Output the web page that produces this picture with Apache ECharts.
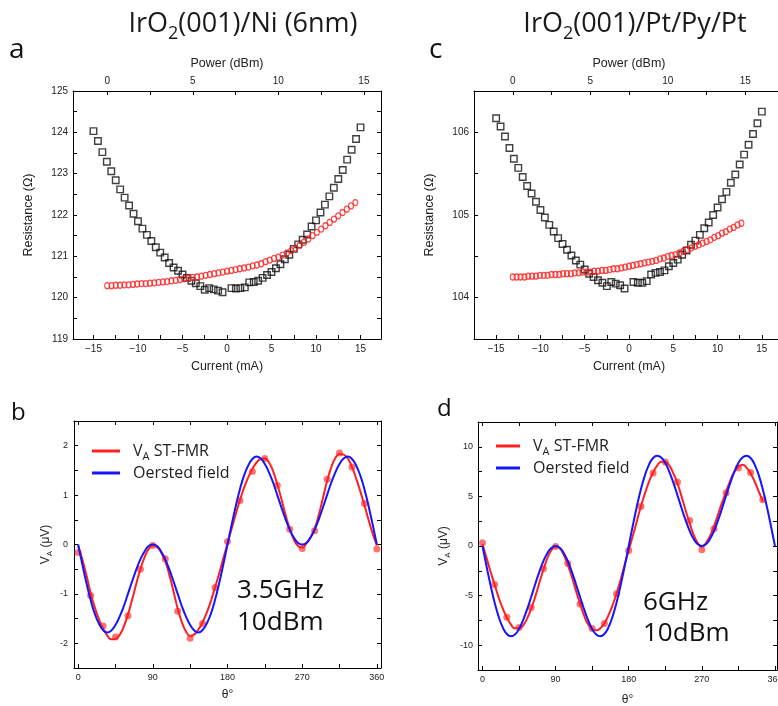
<!DOCTYPE html>
<html><head><meta charset="utf-8">
<script src="https://cdn.jsdelivr.net/npm/echarts@6.0.0/dist/echarts.min.js"></script>
<style>html,body{margin:0;padding:0;background:#fff}#c{width:778px;height:706px}</style>
</head><body><div id="c"></div>
<script>
// ---------- DATA ----------
// Panel a: IrO2(001)/Ni(6nm)  (black squares vs current, red circles vs power)
const currentA = [-15,-14.5,-14,-13.5,-13,-12.5,-12,-11.5,-11,-10.5,-10,-9.5,-9,-8.5,-8,-7.5,-7,-6.5,-6,-5.5,-5,-4.5,-4,-3.5,-3,-2.5,-2,-1.5,-1,-0.5,0.5,1,1.5,2,2.5,3,3.5,4,4.5,5,5.5,6,6.5,7,7.5,8,8.5,9,9.5,10,10.5,11,11.5,12,12.5,13,13.5,14,14.5,15];
const resCurA = [124.03,123.79,123.52,123.29,123.06,122.84,122.62,122.42,122.23,122.03,121.85,121.67,121.52,121.37,121.22,121.09,120.97,120.84,120.73,120.65,120.56,120.48,120.41,120.35,120.28,120.19,120.23,120.20,120.17,120.13,120.23,120.22,120.23,120.25,120.37,120.38,120.41,120.48,120.55,120.62,120.71,120.81,120.93,121.04,121.18,121.29,121.40,121.53,121.72,121.87,122.06,122.25,122.45,122.66,122.87,123.09,123.34,123.58,123.84,124.12];
const powerA = [0,0.25,0.5,0.75,1,1.25,1.5,1.75,2,2.25,2.5,2.75,3,3.25,3.5,3.75,4,4.25,4.5,4.75,5,5.25,5.5,5.75,6,6.25,6.5,6.75,7,7.25,7.5,7.75,8,8.25,8.5,8.75,9,9.25,9.5,9.75,10,10.25,10.5,10.75,11,11.25,11.5,11.75,12,12.25,12.5,12.75,13,13.25,13.5,13.75,14,14.25,14.5];
const resPowA = [120.29,120.29,120.30,120.30,120.31,120.31,120.32,120.33,120.34,120.34,120.35,120.36,120.37,120.38,120.39,120.41,120.42,120.44,120.46,120.47,120.49,120.50,120.52,120.54,120.56,120.58,120.60,120.62,120.64,120.66,120.68,120.70,120.72,120.74,120.77,120.79,120.82,120.87,120.91,120.95,120.98,121.03,121.08,121.14,121.20,121.27,121.34,121.42,121.50,121.58,121.66,121.74,121.82,121.90,121.98,122.06,122.14,122.22,122.30];

// Panel c: IrO2(001)/Pt/Py/Pt
const currentC = [-15,-14.5,-14,-13.5,-13,-12.5,-12,-11.5,-11,-10.5,-10,-9.5,-9,-8.5,-8,-7.5,-7,-6.5,-6,-5.5,-5,-4.5,-4,-3.5,-3,-2.5,-2,-1.5,-1,-0.5,0.5,1,1.5,2,2.5,3,3.5,4,4.5,5,5.5,6,6.5,7,7.5,8,8.5,9,9.5,10,10.5,11,11.5,12,12.5,13,13.5,14,14.5,15];
const resCurC = [106.17,106.07,105.95,105.81,105.68,105.57,105.46,105.35,105.26,105.16,105.06,104.97,104.88,104.80,104.72,104.65,104.58,104.51,104.45,104.40,104.34,104.29,104.25,104.21,104.18,104.14,104.19,104.17,104.15,104.11,104.19,104.18,104.18,104.20,104.28,104.30,104.31,104.33,104.38,104.42,104.46,104.52,104.57,104.64,104.69,104.76,104.84,104.91,105.00,105.09,105.19,105.28,105.39,105.49,105.61,105.73,105.85,105.98,106.11,106.25];
const powerC = [0,0.25,0.5,0.75,1,1.25,1.5,1.75,2,2.25,2.5,2.75,3,3.25,3.5,3.75,4,4.25,4.5,4.75,5,5.25,5.5,5.75,6,6.25,6.5,6.75,7,7.25,7.5,7.75,8,8.25,8.5,8.75,9,9.25,9.5,9.75,10,10.25,10.5,10.75,11,11.25,11.5,11.75,12,12.25,12.5,12.75,13,13.25,13.5,13.75,14,14.25,14.5,14.75];
const resPowC = [104.25,104.25,104.25,104.25,104.26,104.26,104.26,104.27,104.27,104.27,104.28,104.28,104.28,104.29,104.29,104.29,104.30,104.30,104.31,104.31,104.31,104.32,104.32,104.33,104.33,104.34,104.35,104.35,104.36,104.37,104.38,104.39,104.40,104.41,104.42,104.43,104.44,104.45,104.47,104.48,104.50,104.51,104.52,104.54,104.56,104.58,104.60,104.62,104.64,104.66,104.68,104.70,104.73,104.75,104.78,104.80,104.83,104.85,104.88,104.90];

// Panel b: 3.5 GHz, 10 dBm
const thetaDotsB = [0,15,30,45,60,75,90,105,120,135,150,165,180,195,210,225,240,255,270,285,300,315,330,345,360];
const vaDotsB = [-0.16,-1.03,-1.65,-1.87,-1.44,-0.50,-0.02,-0.29,-1.35,-1.90,-1.60,-0.87,0.06,0.89,1.48,1.74,1.20,0.31,-0.08,0.28,1.32,1.85,1.57,0.83,-0.09];
const thetaLine = [0,5,10,15,20,25,30,35,40,45,50,55,60,65,70,75,80,85,90,95,100,105,110,115,120,125,130,135,140,145,150,155,160,165,170,175,180,185,190,195,200,205,210,215,220,225,230,235,240,245,250,255,260,265,270,275,280,285,290,295,300,305,310,315,320,325,330,335,340,345,350,355,360];
const fitB = [-0.03,-0.30,-0.62,-0.98,-1.27,-1.51,-1.70,-1.84,-1.92,-1.91,-1.83,-1.66,-1.42,-1.12,-0.80,-0.50,-0.26,-0.09,-0.02,-0.05,-0.16,-0.34,-0.62,-0.95,-1.30,-1.57,-1.76,-1.85,-1.82,-1.72,-1.57,-1.38,-1.14,-0.87,-0.58,-0.28,0.02,0.32,0.62,0.90,1.15,1.36,1.53,1.66,1.73,1.74,1.66,1.48,1.22,0.92,0.60,0.32,0.10,-0.03,-0.06,0.02,0.14,0.32,0.60,0.94,1.28,1.56,1.75,1.83,1.82,1.74,1.57,1.34,1.08,0.80,0.50,0.22,-0.02];
const oerstedB = [0,-0.40,-0.78,-1.12,-1.40,-1.60,-1.73,-1.78,-1.74,-1.63,-1.46,-1.25,-1.00,-0.75,-0.51,-0.30,-0.14,-0.03,0,-0.03,-0.14,-0.30,-0.51,-0.75,-1.00,-1.25,-1.46,-1.63,-1.74,-1.78,-1.73,-1.60,-1.40,-1.12,-0.78,-0.40,0,0.40,0.78,1.12,1.40,1.60,1.73,1.78,1.74,1.63,1.46,1.25,1.00,0.75,0.51,0.30,0.14,0.03,0,0.03,0.14,0.30,0.51,0.75,1.00,1.25,1.46,1.63,1.74,1.78,1.73,1.60,1.40,1.12,0.78,0.40,0];

// Panel d: 6 GHz, 10 dBm
const thetaDotsD = [0,15,30,45,60,75,90,105,120,135,150,165,180,195,210,225,240,255,270,285,300,315,330,345];
const vaDotsD = [0.32,-3.87,-7.19,-8.22,-6.21,-2.29,-0.05,-1.76,-5.85,-8.32,-7.82,-4.81,-0.45,3.97,7.35,8.46,6.45,2.56,-0.39,1.73,5.38,7.86,7.42,4.67];
const thetaFitD = [0,5,10,15,20,25,30,35,40,45,50,55,60,65,70,75,80,85,90,95,100,105,110,115,120,125,130,135,140,145,150,155,160,165,170,175,180,185,190,195,200,205,210,215,220,225,230,235,240,245,250,255,260,265,270,275,280,285,290,295,300,305,310,315,320,325,330,335,340,345];
const fitD = [0.2,-1.2,-2.6,-3.9,-5.2,-6.3,-7.2,-7.9,-8.3,-8.3,-8.0,-7.3,-6.3,-5.1,-3.7,-2.4,-1.2,-0.4,-0.05,-0.2,-0.9,-1.9,-3.1,-4.5,-5.8,-7.0,-7.9,-8.4,-8.5,-8.3,-7.8,-7.0,-6.0,-4.8,-3.4,-1.9,-0.45,1.0,2.5,4.0,5.3,6.5,7.4,8.1,8.5,8.5,8.1,7.3,6.3,5.0,3.6,2.3,1.1,0.3,-0.1,0.3,1.0,2.0,3.2,4.4,5.5,6.6,7.5,8.0,8.2,7.9,7.3,6.5,5.5,4.5];
const oerstedD = [0,-2.04,-3.98,-5.71,-7.14,-8.21,-8.87,-9.10,-8.92,-8.36,-7.48,-6.37,-5.12,-3.83,-2.60,-1.53,-0.70,-0.18,0,-0.18,-0.70,-1.53,-2.60,-3.83,-5.12,-6.37,-7.48,-8.36,-8.92,-9.10,-8.87,-8.21,-7.14,-5.71,-3.98,-2.04,0,2.04,3.98,5.71,7.14,8.21,8.87,9.10,8.92,8.36,7.48,6.37,5.12,3.83,2.60,1.53,0.70,0.18,0,0.18,0.70,1.53,2.60,3.83,5.12,6.37,7.48,8.36,8.92,9.10,8.87,8.21,7.14,5.71,3.98,2.04,0];

// Tick / label values
const ticksCur = [-15,-12.5,-10,-7.5,-5,-2.5,0,2.5,5,7.5,10,12.5,15];
const labCur = [-15,-10,-5,0,5,10,15];
const ticksPow = [0,2.5,5,7.5,10,12.5,15];
const labPow = [0,5,10,15];
const ticksResA = [119,119.5,120,120.5,121,121.5,122,122.5,123,123.5,124,124.5,125];
const labResA = [119,120,121,122,123,124,125];
const ticksResC = [103.5,104,104.5,105,105.5,106,106.5];
const labResC = [104,105,106];
const ticksTheta = [0,45,90,135,180,225,270,315,360];
const labTheta = [0,90,180,270,360];
const ticksVB = [-2.5,-2,-1.5,-1,-0.5,0,0.5,1,1.5,2,2.5];
const labVB = [-2,-1,0,1,2];
const ticksVD = [-12.5,-10,-7.5,-5,-2.5,0,2.5,5,7.5,10,12.5];
const labVD = [-10,-5,0,5,10];

// ---------- CHART ----------
const zip = (a, b) => a.map((v, i) => [v, b[i]]);
const FA = "'Liberation Sans', Arial, sans-serif";
const FO = "'Open Sans', 'Noto Sans', sans-serif";
const minusFmt = v => (v < 0 ? '\u2212' + Math.abs(v) : String(v));

function axis(o) {
  return {
    type: 'value', gridIndex: o.grid, position: o.pos, min: o.min, max: o.max,
    splitLine: { show: false },
    axisLine: { show: true, onZero: false, lineStyle: { color: '#000', width: 1 } },
    axisTick: { show: true, inside: true, length: 4, customValues: o.ticks, lineStyle: { color: '#000', width: 1 } },
    axisLabel: o.labels ? { show: true, customValues: o.labels, margin: o.margin, formatter: o.fmt,
      fontFamily: FA, fontSize: o.fs, color: '#222' } : { show: false },
    name: o.name || '', nameLocation: 'middle', nameGap: o.nameGap,
    nameTextStyle: Object.assign({ fontFamily: FA, fontSize: o.nfs || 12.5, color: '#222' }, o.nts || {})
  };
}

const subRich = (fs, lh, sfs) => ({
  m: { fontFamily: FA, fontSize: fs, lineHeight: lh, color: '#222' },
  s: { fontFamily: FA, fontSize: sfs, lineHeight: sfs, verticalAlign: 'bottom', color: '#222' }
});

const chart = echarts.init(document.getElementById('c'), null, { renderer: 'canvas' });

const legendRich = {
  g: { width: 8 },
  m: { fontFamily: FO, fontSize: 16, lineHeight: 22, color: '#222' },
  s: { fontFamily: FO, fontSize: 11, lineHeight: 11, verticalAlign: 'bottom', color: '#222' }
};
const legendFmt = n => n === 'VA ST-FMR' ? '{g|}{m|V}{s|A}{m| ST-FMR}' : '{g|}{m|' + n + '}';

const G = { outerBoundsMode: 'none', containLabel: false };

const option = {
  animation: false,
  backgroundColor: '#fff',
  grid: [
    Object.assign({ left: 73, top: 91, width: 308, height: 248 }, G),
    Object.assign({ left: 474, top: 91, width: 310, height: 248 }, G),
    Object.assign({ left: 74, top: 421, width: 307, height: 247 }, G),
    Object.assign({ left: 478, top: 422, width: 299, height: 248 }, G)
  ],
  xAxis: [
    axis({ grid: 0, pos: 'bottom', min: -17.3, max: 17.3, ticks: ticksCur, labels: labCur, fmt: minusFmt, fs: 10, margin: 5, name: 'Current (mA)', nameGap: 21 }),
    axis({ grid: 0, pos: 'top', min: -2, max: 16, ticks: ticksPow, labels: labPow, fs: 10, margin: 5, name: 'Power (dBm)', nameGap: 21 }),
    axis({ grid: 1, pos: 'bottom', min: -17.5, max: 17.5, ticks: ticksCur, labels: labCur, fmt: minusFmt, fs: 10, margin: 5, name: 'Current (mA)', nameGap: 21 }),
    axis({ grid: 1, pos: 'top', min: -2.5, max: 17.5, ticks: ticksPow, labels: labPow, fs: 10, margin: 5, name: 'Power (dBm)', nameGap: 21 }),
    axis({ grid: 2, pos: 'bottom', min: -5, max: 365, ticks: ticksTheta, labels: labTheta, fs: 9, margin: 5, name: 'θ°', nameGap: 21, nfs: 12 }),
    axis({ grid: 2, pos: 'top', min: -5, max: 365, ticks: ticksTheta }),
    axis({ grid: 3, pos: 'bottom', min: -5.5, max: 362.5, ticks: ticksTheta, labels: labTheta, fs: 9, margin: 5, name: 'θ°', nameGap: 24, nfs: 12 }),
    axis({ grid: 3, pos: 'top', min: -5.5, max: 362.5, ticks: ticksTheta })
  ],
  yAxis: [
    axis({ grid: 0, pos: 'left', min: 119, max: 125, ticks: ticksResA, labels: labResA, fs: 10, margin: 5, name: 'Resistance (Ω)', nameGap: 38 }),
    axis({ grid: 0, pos: 'right', min: 119, max: 125, ticks: ticksResA }),
    axis({ grid: 1, pos: 'left', min: 103.5, max: 106.5, ticks: ticksResC, labels: labResC, fs: 10, margin: 5, name: 'Resistance (Ω)', nameGap: 38 }),
    axis({ grid: 1, pos: 'right', min: 103.5, max: 106.5, ticks: ticksResC }),
    axis({ grid: 2, pos: 'left', min: -2.5, max: 2.5, ticks: ticksVB, labels: labVB, fs: 9, margin: 6,
      name: '{m|V}{s|A}{m| (μV)}', nameGap: 20, nts: { rich: subRich(12, 16, 8) } }),
    axis({ grid: 2, pos: 'right', min: -2.5, max: 2.5, ticks: ticksVB }),
    axis({ grid: 3, pos: 'left', min: -12.5, max: 12.5, ticks: ticksVD, labels: labVD, fs: 9, margin: 5,
      name: '{m|V}{s|A}{m| (μV)}', nameGap: 26, nts: { rich: subRich(12, 16, 8) } }),
    axis({ grid: 3, pos: 'right', min: -12.5, max: 12.5, ticks: ticksVD })
  ],
  legend: [
    { orient: 'vertical', left: 92, top: 443, padding: 0, itemWidth: 28, itemHeight: 3, itemGap: 3, icon: 'rect',
      data: ['VA ST-FMR', 'Oersted field'], formatter: legendFmt,
      textStyle: { fontFamily: FO, fontSize: 16, color: '#222', rich: legendRich }, selectedMode: false },
    { orient: 'vertical', left: 496, top: 438, padding: 0, itemWidth: 24, itemHeight: 3, itemGap: 3, icon: 'rect',
      data: ['VA ST-FMR', 'Oersted field'], formatter: legendFmt,
      textStyle: { fontFamily: FO, fontSize: 16, color: '#222', rich: legendRich }, selectedMode: false }
  ],
  series: [
    { type: 'scatter', xAxisIndex: 0, yAxisIndex: 0, data: zip(currentA, resCurA), symbol: 'rect', symbolSize: 6.5,
      itemStyle: { color: 'rgba(0,0,0,0)', borderColor: '#111', borderWidth: 1.4 } },
    { type: 'scatter', xAxisIndex: 1, yAxisIndex: 0, data: zip(powerA, resPowA), symbol: 'circle', symbolSize: [5, 6],
      itemStyle: { color: 'rgba(0,0,0,0)', borderColor: '#ff1a1a', borderWidth: 1.2 } },
    { type: 'scatter', xAxisIndex: 2, yAxisIndex: 2, data: zip(currentC, resCurC), symbol: 'rect', symbolSize: 6.5,
      itemStyle: { color: 'rgba(0,0,0,0)', borderColor: '#111', borderWidth: 1.4 } },
    { type: 'scatter', xAxisIndex: 3, yAxisIndex: 2, data: zip(powerC, resPowC), symbol: 'circle', symbolSize: [5, 6],
      itemStyle: { color: 'rgba(0,0,0,0)', borderColor: '#ff1a1a', borderWidth: 1.2 } },

    { name: 'VA ST-FMR', type: 'line', xAxisIndex: 4, yAxisIndex: 4, data: zip(thetaLine, fitB), symbol: 'none', smooth: true,
      lineStyle: { color: '#ff2020', width: 2 }, itemStyle: { color: '#ff2020' } },
    { name: 'Oersted field', type: 'line', xAxisIndex: 4, yAxisIndex: 4, data: zip(thetaLine, oerstedB), symbol: 'none', smooth: true,
      lineStyle: { color: '#1515ff', width: 2 }, itemStyle: { color: '#1515ff' } },
    { name: 'dotsB', type: 'scatter', xAxisIndex: 4, yAxisIndex: 4, data: zip(thetaDotsB, vaDotsB), symbol: 'circle', symbolSize: 7,
      itemStyle: { color: 'rgba(255,60,60,0.9)' } },

    { name: 'VA ST-FMR', type: 'line', xAxisIndex: 6, yAxisIndex: 6, data: zip(thetaFitD, fitD), symbol: 'none', smooth: true,
      lineStyle: { color: '#ff2020', width: 2 }, itemStyle: { color: '#ff2020' } },
    { name: 'Oersted field', type: 'line', xAxisIndex: 6, yAxisIndex: 6, data: zip(thetaLine, oerstedD), symbol: 'none', smooth: true,
      lineStyle: { color: '#1515ff', width: 2 }, itemStyle: { color: '#1515ff' } },
    { name: 'dotsD', type: 'scatter', xAxisIndex: 6, yAxisIndex: 6, data: zip(thetaDotsD, vaDotsD), symbol: 'circle', symbolSize: 7,
      itemStyle: { color: 'rgba(255,60,60,0.9)' } }
  ],
  graphic: [
    { type: 'text', x: 243, y: 24, style: { text: '{m|IrO}{s|2}{m|(001)/Ni (6nm)}', align: 'center', verticalAlign: 'middle',
      rich: { m: { fontFamily: FO, fontSize: 27, lineHeight: 38, fill: '#1a1a1a' }, s: { fontFamily: FO, fontSize: 18, lineHeight: 18, verticalAlign: 'bottom', fill: '#1a1a1a' } } } },
    { type: 'text', x: 635, y: 24, style: { text: '{m|IrO}{s|2}{m|(001)/Pt/Py/Pt}', align: 'center', verticalAlign: 'middle',
      rich: { m: { fontFamily: FO, fontSize: 27, lineHeight: 38, fill: '#1a1a1a' }, s: { fontFamily: FO, fontSize: 18, lineHeight: 18, verticalAlign: 'bottom', fill: '#1a1a1a' } } } },
    { type: 'text', x: 9, y: 50, style: { text: 'a', fontFamily: FO, fontSize: 28, fill: '#111', verticalAlign: 'middle' } },
    { type: 'text', x: 429, y: 50, style: { text: 'c', fontFamily: FO, fontSize: 28, fill: '#111', verticalAlign: 'middle' } },
    { type: 'text', x: 11, y: 413, style: { text: 'b', fontFamily: FO, fontSize: 24, fill: '#111', verticalAlign: 'middle' } },
    { type: 'text', x: 437, y: 409, style: { text: 'd', fontFamily: FO, fontSize: 24, fill: '#111', verticalAlign: 'middle' } },
    { type: 'text', x: 237, y: 591, style: { text: '3.5GHz', fontFamily: FO, fontSize: 26, fill: '#111', verticalAlign: 'middle' } },
    { type: 'text', x: 237, y: 623, style: { text: '10dBm', fontFamily: FO, fontSize: 26, fill: '#111', verticalAlign: 'middle' } },
    { type: 'text', x: 643, y: 603, style: { text: '6GHz', fontFamily: FO, fontSize: 26, fill: '#111', verticalAlign: 'middle' } },
    { type: 'text', x: 643, y: 634, style: { text: '10dBm', fontFamily: FO, fontSize: 26, fill: '#111', verticalAlign: 'middle' } }
  ]
};
chart.setOption(option);
</script></body></html>
